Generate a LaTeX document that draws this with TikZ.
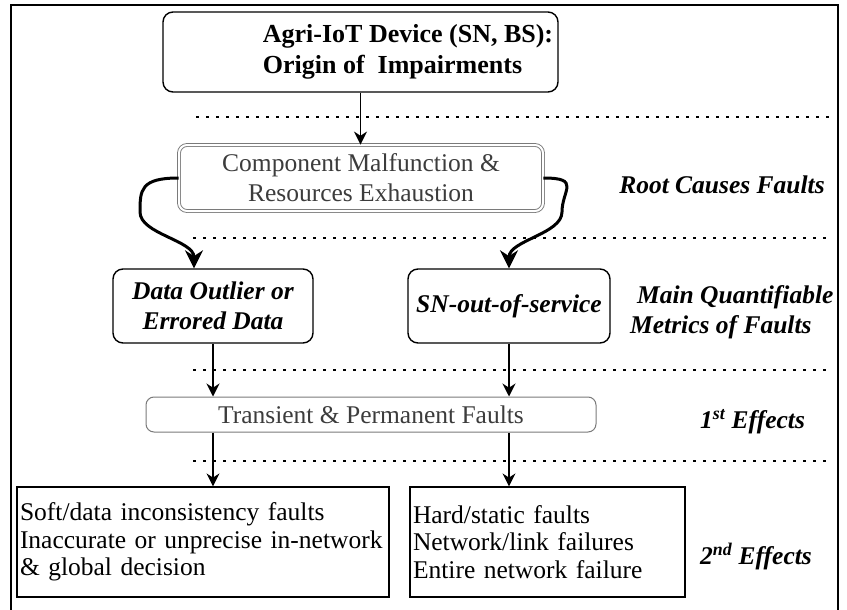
\documentclass[tikz,border=0pt]{standalone}
\usepackage{fontspec}
\setmainfont{Liberation Serif}
\usetikzlibrary{arrows.meta}

\definecolor{boxgray}{HTML}{7A7A7A}
\definecolor{textgray}{HTML}{3C3C3C}

\begin{document}
\begin{tikzpicture}[x=1pt, y=-1pt,
        txt/.style={font=\fontsize{25.5}{30}\selectfont, inner sep=0pt},
        tier/.style={txt, font=\fontsize{25.5}{30}\selectfont\bfseries\itshape},
        blackbox/.style={txt, draw, line width=1.4pt, rounded corners=10pt},
        graybox/.style={txt, draw=boxgray, text=textgray, line width=1pt, rounded corners=8pt},
        plainbox/.style={txt, draw, line width=1.2pt, align=left, font=\fontsize{25.5}{27.5}\selectfont},
        divider/.style={line width=2.5pt, dash pattern=on 2.5pt off 7.5pt},
        flow/.style={-{Stealth[length=13pt,width=13pt]}, line width=1.3pt},
        curvearrow/.style={-{Stealth[length=18pt,width=18pt]}, line width=3pt}]
    \useasboundingbox (0,0) rectangle (847,610);

    % Outer frame
    \draw[line width=1.5pt] (11,610) -- (11,5) -- (838,5) -- (838,610);

    % Boxes of the chain
    \node[blackbox, font=\fontsize{26}{31}\selectfont\bfseries, align=left,
        minimum width=395pt, minimum height=80pt] (origin) at (360.5,52)
        {\hspace*{95pt}Agri-IoT Device (SN, BS):\\\hspace*{95pt}Origin of\enspace Impairments};
    \node[graybox, double=white, double distance=2pt, line width=0.9pt, align=center,
        minimum width=364pt, minimum height=66pt] (cmf) at (361,178)
        {Component Malfunction \&\\Resources Exhaustion};
    \node[blackbox, tier, align=center, minimum width=200pt, minimum height=74pt] (data) at (213,306)
        {Data Outlier or\\Errored Data};
    \node[blackbox, tier, minimum width=202pt, minimum height=74pt] (sn) at (509,306)
        {SN-out-of-service};
    \node[graybox, minimum width=450pt, minimum height=35pt] (tpf) at (371,414.5)
        {Transient \& Permanent Faults};
    \node[plainbox, minimum width=372pt, minimum height=110pt, text width=366pt] (soft) at (203,542)
        {Soft/data inconsistency faults\\Inaccurate or unprecise in-network\\\& global decision};
    \node[plainbox, minimum width=275pt, minimum height=110pt, text width=269pt] (hard) at (547.5,542)
        {Hard/static faults\\Network/link failures\\Entire network failure};

    % Level names on the right
    \node[tier] (roots) at (722,185) {Root Causes Faults};
    \node[tier, align=left, anchor=west] (metrics) at (630,312)
        {\hspace*{7pt}Main Quantifiable\\Metrics of Faults};
    \node[tier, anchor=west] (first) at (700,422) {1\textsuperscript{st} Effects};
    \node[tier, anchor=west] (second) at (700,557) {2\textsuperscript{nd} Effects};

    % Dotted level separators
    \draw[divider] (196,117) -- (830,117);
    \draw[divider] (193,238) -- (830,238);
    \draw[divider] (193,370) -- (830,370);
    \draw[divider] (193,461) -- (830,461);

    % Arrows
    \coordinate (lbend) at (140,212);
    \coordinate (rbend) at (562,212);
    \draw[flow] (origin.south) -- (origin.south |- cmf.north);
    \draw[curvearrow] (cmf.west) .. controls +(-38,0) and +(0,-22) .. (lbend)
        .. controls +(0,22) and +(0,-28) .. ([xshift=-19pt]data.north);
    \draw[curvearrow] (cmf.east) .. controls +(38,0) and +(0,-22) .. (rbend)
        .. controls +(0,22) and +(0,-28) .. (sn.north);
    \draw[flow] (data.south) -- (data.south |- tpf.north);
    \draw[flow] (sn.south) -- (sn.south |- tpf.north);
    \draw[flow] (tpf.south -| data.south) -- (soft.north -| data.south);
    \draw[flow] (tpf.south -| sn.south) -- (hard.north -| sn.south);
\end{tikzpicture}
\end{document}
